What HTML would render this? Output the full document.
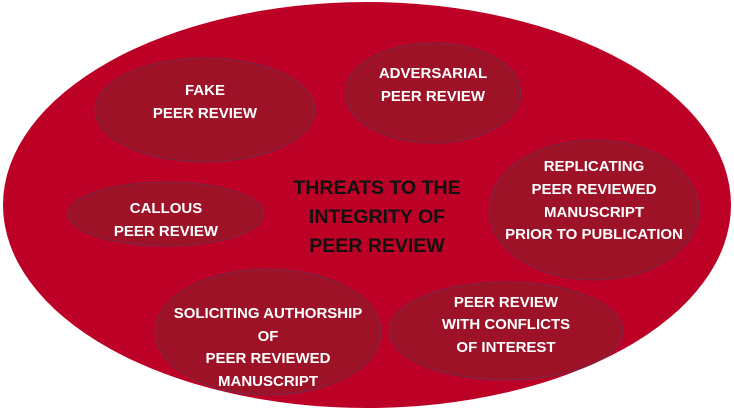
<!DOCTYPE html>
<html><head><meta charset="utf-8"><style>
html,body{margin:0;padding:0;background:#fff;width:734px;height:412px;overflow:hidden}
text{font-family:"Liberation Sans",sans-serif;font-weight:bold;text-anchor:middle}
.w{fill:#fff;font-size:15px}
.b{fill:#111;font-size:19.5px}
</style></head><body>
<svg width="734" height="412" viewBox="0 0 734 412">
<ellipse cx="367" cy="205" rx="364" ry="203" fill="#bd0026"/>
<g fill="#9e1227" stroke="#6a3050" stroke-width="0.8">
<ellipse cx="205" cy="110" rx="110" ry="52"/>
<ellipse cx="433" cy="93" rx="88" ry="50"/>
<ellipse cx="594" cy="210" rx="105" ry="70"/>
<ellipse cx="166" cy="214" rx="98" ry="32"/>
<ellipse cx="268" cy="332" rx="113" ry="63"/>
<ellipse cx="506" cy="331" rx="117" ry="49"/>
</g>
<text class="w" x="205" y="95">FAKE</text>
<text class="w" x="205" y="118">PEER REVIEW</text>
<text class="w" x="433" y="78">ADVERSARIAL</text>
<text class="w" x="433" y="101">PEER REVIEW</text>
<text class="w" x="594" y="171">REPLICATING</text>
<text class="w" x="594" y="194">PEER REVIEWED</text>
<text class="w" x="594" y="217">MANUSCRIPT</text>
<text class="w" x="594" y="239">PRIOR TO PUBLICATION</text>
<text class="w" x="166" y="213">CALLOUS</text>
<text class="w" x="166" y="236">PEER REVIEW</text>
<text class="w" x="268" y="318">SOLICITING AUTHORSHIP</text>
<text class="w" x="268" y="341">OF</text>
<text class="w" x="268" y="363">PEER REVIEWED</text>
<text class="w" x="268" y="386">MANUSCRIPT</text>
<text class="w" x="506" y="307">PEER REVIEW</text>
<text class="w" x="506" y="329">WITH CONFLICTS</text>
<text class="w" x="506" y="352">OF INTEREST</text>
<text class="b" x="377" y="194">THREATS TO THE</text>
<text class="b" x="377" y="223">INTEGRITY OF</text>
<text class="b" x="377" y="252">PEER REVIEW</text>
</svg>
</body></html>
